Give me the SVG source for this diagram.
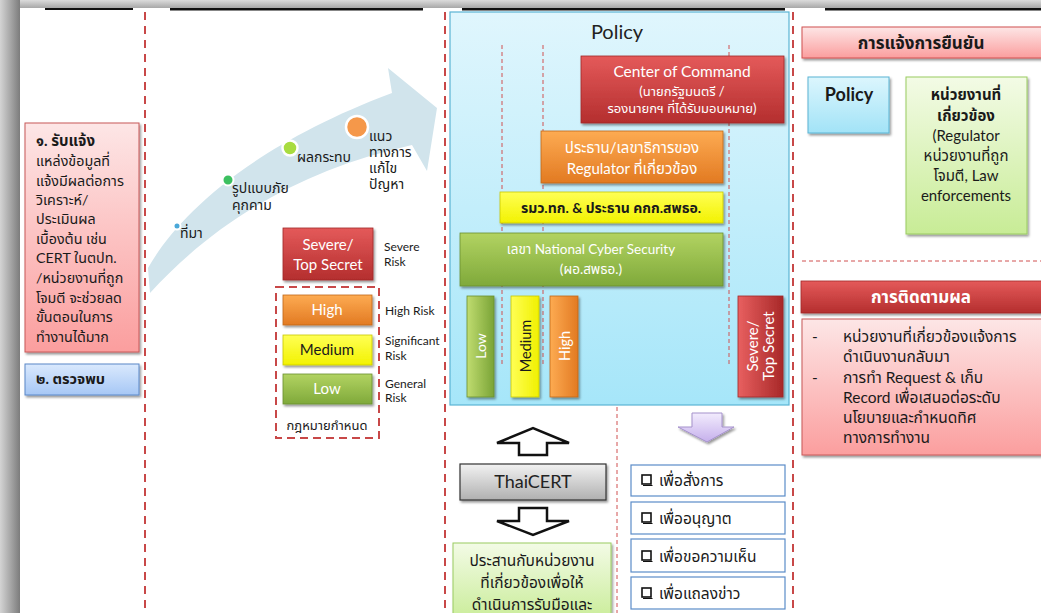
<svg xmlns="http://www.w3.org/2000/svg" width="1041" height="613" viewBox="0 0 1041 613">
<defs>
<style>
text{font-family:Lato,"Noto Sans Thai","Noto Sans","DejaVu Sans",sans-serif;}
.k{fill:#1a1a1a;}
.w{fill:#ffffff;}
.b{font-weight:bold;}
.c{text-anchor:middle;}
.dash{stroke:#c84848;stroke-width:2;stroke-dasharray:8 6;fill:none;}
.thin{stroke:#d05050;stroke-width:1;stroke-dasharray:4 3;fill:none;}
.sh{filter:url(#shadow);}
</style>
<filter id="shadow" x="-10%" y="-10%" width="130%" height="140%">
<feDropShadow dx="1.5" dy="2" stdDeviation="1.2" flood-color="#000" flood-opacity="0.4"/>
</filter>
<linearGradient id="gRed" x1="0" y1="0" x2="0" y2="1"><stop offset="0" stop-color="#e45a5a"/><stop offset="1" stop-color="#b42e2e"/></linearGradient>
<linearGradient id="gOrange" x1="0" y1="0" x2="0" y2="1"><stop offset="0" stop-color="#fdab52"/><stop offset="1" stop-color="#e27a22"/></linearGradient>
<linearGradient id="gYellow" x1="0" y1="0" x2="0" y2="1"><stop offset="0" stop-color="#ffff55"/><stop offset="1" stop-color="#f2f200"/></linearGradient>
<linearGradient id="gGreen" x1="0" y1="0" x2="0" y2="1"><stop offset="0" stop-color="#b2d362"/><stop offset="1" stop-color="#7fa93a"/></linearGradient>
<linearGradient id="gRedH" x1="0" y1="0" x2="1" y2="0"><stop offset="0" stop-color="#e86060"/><stop offset="1" stop-color="#a82828"/></linearGradient>
<linearGradient id="gOrangeH" x1="0" y1="0" x2="1" y2="0"><stop offset="0" stop-color="#fdab52"/><stop offset="1" stop-color="#e27a22"/></linearGradient>
<linearGradient id="gYellowH" x1="0" y1="0" x2="1" y2="0"><stop offset="0" stop-color="#ffff55"/><stop offset="1" stop-color="#f0f000"/></linearGradient>
<linearGradient id="gGreenH" x1="0" y1="0" x2="1" y2="0"><stop offset="0" stop-color="#c0dc70"/><stop offset="1" stop-color="#7aa436"/></linearGradient>
<linearGradient id="gPink" x1="0" y1="0" x2="0" y2="1"><stop offset="0" stop-color="#fde6e6"/><stop offset="1" stop-color="#fb9e9e"/></linearGradient>
<linearGradient id="gBlue" x1="0" y1="0" x2="0" y2="1"><stop offset="0" stop-color="#dae9fd"/><stop offset="1" stop-color="#a6c7f5"/></linearGradient>
<linearGradient id="gCyan" x1="0" y1="0" x2="0" y2="1"><stop offset="0" stop-color="#dcf6fd"/><stop offset="1" stop-color="#a2e3f7"/></linearGradient>
<linearGradient id="gPolicy" x1="0" y1="0" x2="0" y2="1"><stop offset="0" stop-color="#e0f6fd"/><stop offset="1" stop-color="#a6e6f9"/></linearGradient>
<linearGradient id="gLGreen" x1="0" y1="0" x2="0" y2="1"><stop offset="0" stop-color="#f3fbe6"/><stop offset="1" stop-color="#c8ec96"/></linearGradient>
<linearGradient id="gGrey" x1="0" y1="0" x2="0" y2="1"><stop offset="0" stop-color="#f2f2f2"/><stop offset="1" stop-color="#b0b0b0"/></linearGradient>
<linearGradient id="gPurple" x1="0" y1="0" x2="0" y2="1"><stop offset="0" stop-color="#f2ecfd"/><stop offset="1" stop-color="#c6b0ec"/></linearGradient>
<linearGradient id="gLeft" x1="0" y1="0" x2="1" y2="0"><stop offset="0" stop-color="#d4d4d4"/><stop offset="0.6" stop-color="#a0a0a0"/><stop offset="1" stop-color="#7c7c7c"/></linearGradient>
<linearGradient id="gTop" x1="0" y1="0" x2="0" y2="1"><stop offset="0" stop-color="#dcdcdc"/><stop offset="1" stop-color="#a8a8a8"/></linearGradient>
</defs>

<!-- frame -->
<rect x="0" y="0" width="1041" height="613" fill="#ffffff"/>
<rect x="0" y="0" width="1041" height="8" fill="url(#gTop)"/>
<rect x="0" y="0" width="20" height="613" fill="url(#gLeft)"/>
<g id="toplines" fill="#111">
<rect x="45" y="8" width="88" height="2"/>
<rect x="170" y="8" width="253" height="2.5"/>
<rect x="462" y="8" width="323" height="2.5"/>
<rect x="825" y="8" width="216" height="2.5"/>
</g>

<!-- column separators -->
<g id="separators">
<line class="dash" x1="145" y1="12" x2="145" y2="613"/>
<line class="dash" x1="445" y1="12" x2="445" y2="613"/>
<line class="dash" x1="793" y1="12" x2="793" y2="613"/>
<line class="thin" x1="617" y1="407" x2="617" y2="613"/>
<line class="thin" x1="802" y1="261" x2="1041" y2="261"/>
</g>

<!-- left column -->
<g id="report">
<rect class="sh" x="25" y="123" width="114" height="229" fill="url(#gPink)" stroke="#c85858" stroke-width="1"/>
<g class="k" font-size="14.3">
<text x="36" y="146" class="b" font-size="15">๑. รับแจ้ง</text>
<text x="36" y="166">แหล่งข้อมูลที่</text>
<text x="36" y="186">แจ้งมีผลต่อการ</text>
<text x="36" y="205">วิเคราะห์/</text>
<text x="36" y="224">ประเมินผล</text>
<text x="36" y="244">เบื้องต้น เช่น</text>
<text x="36" y="263">CERT ในตปท.</text>
<text x="36" y="283">/หน่วยงานที่ถูก</text>
<text x="36" y="303">โจมตี จะช่วยลด</text>
<text x="36" y="322">ขั้นตอนในการ</text>
<text x="36" y="342">ทำงานได้มาก</text>
</g>
</g>
<g id="detect">
<rect class="sh" x="25" y="364" width="114" height="31" fill="url(#gBlue)" stroke="#5b88c8" stroke-width="1"/>
<text x="36" y="384" class="k b" font-size="14.6">๒. ตรวจพบ</text>
</g>

<!-- curved arrow -->
<g id="process-arrow">
<path d="M148,268 C175,220 245,148 392,93 L388,68 L437,108 L427,171 L412,145 C300,170 215,222 150,293 Z" fill="#d1e4ec"/>
<circle cx="177" cy="226" r="3.5" fill="#4aa8d8" stroke="#fff" stroke-width="2"/>
<circle cx="228" cy="180" r="5.5" fill="#3cc060" stroke="#fff" stroke-width="2"/>
<circle cx="290" cy="148" r="7.5" fill="#a8dc40" stroke="#fff" stroke-width="2.5"/>
<circle cx="357" cy="127" r="11" fill="#f5984a" stroke="#fff" stroke-width="2.5"/>
<g class="k" font-size="14">
<text x="180" y="238">ที่มา</text>
<text x="232" y="193">รูปแบบภัย</text>
<text x="232" y="210">คุกคาม</text>
<text x="297" y="162">ผลกระทบ</text>
<text x="369" y="141">แนว</text>
<text x="369" y="157">ทางการ</text>
<text x="369" y="173">แก้ไข</text>
<text x="369" y="189">ปัญหา</text>
</g>
</g>

<!-- risk legend -->
<g id="legend">
<rect class="sh" x="283" y="228" width="90" height="52" fill="url(#gRed)" stroke="#a02828" stroke-width="0.8"/>
<text x="328" y="250" class="c w" font-size="15">Severe/</text>
<text x="328" y="270" class="c w" font-size="15">Top Secret</text>
<rect x="276" y="287" width="103" height="151" fill="none" stroke="#c84848" stroke-width="2" stroke-dasharray="8 5"/>
<rect class="sh" x="283" y="295" width="89" height="30" fill="url(#gOrange)" stroke="#c06818" stroke-width="0.8"/>
<text x="327" y="315" class="c w" font-size="15">High</text>
<rect class="sh" x="283" y="335" width="89" height="30" fill="url(#gYellow)" stroke="#c8c800" stroke-width="0.8"/>
<text x="327" y="355" class="c k" font-size="15">Medium</text>
<rect class="sh" x="283" y="374" width="89" height="30" fill="url(#gGreen)" stroke="#6a9030" stroke-width="0.8"/>
<text x="327" y="394" class="c w" font-size="15">Low</text>
<text x="327" y="430" class="c k" font-size="13">กฎหมายกำหนด</text>
<g font-size="12" class="k">
<text x="384" y="251">Severe</text>
<text x="384" y="266">Risk</text>
<text x="385" y="315">High Risk</text>
<text x="385" y="345">Significant</text>
<text x="385" y="360">Risk</text>
<text x="385" y="388">General</text>
<text x="385" y="402">Risk</text>
</g>
</g>

<!-- policy panel -->
<g id="policy">
<rect x="450" y="12" width="339" height="393" fill="url(#gPolicy)" stroke="#5ab4d4" stroke-width="1.2"/>
<text x="617" y="39" class="c" font-size="20" fill="#222">Policy</text>
<line class="thin" x1="502" y1="45" x2="502" y2="367"/>
<line class="thin" x1="543" y1="45" x2="543" y2="367"/>
<line class="thin" x1="729" y1="45" x2="729" y2="367"/>
</g>
<g id="command">
<rect class="sh" x="581" y="56" width="203" height="67" fill="url(#gRed)" stroke="#a02828" stroke-width="0.8"/>
<text x="682" y="77" class="c w" font-size="15.5">Center of Command</text>
<text x="682" y="96" class="c w" font-size="13">(นายกรัฐมนตรี /</text>
<text x="682" y="113" class="c w" font-size="13">รองนายกฯ ที่ได้รับมอบหมาย)</text>
</g>
<g id="regulator">
<rect class="sh" x="541" y="131" width="182" height="52" fill="url(#gOrange)" stroke="#c06818" stroke-width="0.8"/>
<text x="632" y="153" class="c w" font-size="15">ประธาน/เลขาธิการของ</text>
<text x="632" y="174" class="c w" font-size="15">Regulator ที่เกี่ยวข้อง</text>
</g>
<g id="minister">
<rect class="sh" x="500" y="192" width="223" height="31" fill="url(#gYellow)" stroke="#c8c800" stroke-width="0.8"/>
<text x="611" y="213" class="c b k" font-size="14">รมว.ทก. &amp; ประธาน คกก.สพธอ.</text>
</g>
<g id="secretary">
<rect class="sh" x="460" y="233" width="263" height="53" fill="url(#gGreen)" stroke="#6a9030" stroke-width="0.8"/>
<text x="591" y="254" class="c w" font-size="13.5">เลขา National  Cyber Security</text>
<text x="591" y="274" class="c w" font-size="13.5">(ผอ.สพธอ.)</text>
</g>
<g id="bar-low">
<rect class="sh" x="467" y="296" width="27" height="101" fill="url(#gGreenH)" stroke="#6a9030" stroke-width="0.8"/>
<text transform="translate(480.5,346) rotate(-90)" class="c w" font-size="14" dominant-baseline="central">Low</text>
</g>
<g id="bar-medium">
<rect class="sh" x="511" y="296" width="28" height="101" fill="url(#gYellowH)" stroke="#c8c800" stroke-width="0.8"/>
<text transform="translate(525,346) rotate(-90)" class="c k" font-size="14.5" dominant-baseline="central">Medium</text>
</g>
<g id="bar-high">
<rect class="sh" x="550" y="296" width="28" height="101" fill="url(#gOrangeH)" stroke="#c06818" stroke-width="0.8"/>
<text transform="translate(564,346) rotate(-90)" class="c w" font-size="14.5" dominant-baseline="central">High</text>
</g>
<g id="bar-severe">
<rect class="sh" x="738" y="296" width="45" height="101" fill="url(#gRedH)" stroke="#a02828" stroke-width="0.8"/>
<text transform="translate(760,346) rotate(-90)" class="c w" font-size="15"><tspan x="0" y="-2">Severe/</tspan><tspan x="0" y="14">Top Secret</tspan></text>
</g>

<!-- connectors -->
<g id="connectors">
<path d="M519,455 L519,443 L497,443 L533,428 L569,443 L547,443 L547,455 Z" fill="#fff" stroke="#111" stroke-width="2.5"/>
<path d="M519,508 L547,508 L547,521 L569,521 L533,535 L497,521 L519,521 Z" fill="#fff" stroke="#111" stroke-width="2.5"/>
<path class="sh" d="M692,413 L722,413 L722,427 L734,427 L707,442 L678,427 L692,427 Z" fill="url(#gPurple)" stroke="#a592cc" stroke-width="1"/>
</g>
<g id="thaicert">
<rect class="sh" x="460" y="464" width="146" height="36" fill="url(#gGrey)" stroke="#333" stroke-width="1.2"/>
<text x="533" y="488" class="c" font-size="18" fill="#222">ThaiCERT</text>
</g>
<g id="coordinate">
<rect class="sh" x="453" y="543" width="158" height="80" fill="url(#gLGreen)" stroke="#9acb60" stroke-width="1"/>
<g class="c k" font-size="15.5">
<text x="532" y="566">ประสานกับหน่วยงาน</text>
<text x="532" y="588">ที่เกี่ยวข้องเพื่อให้</text>
<text x="532" y="610">ดำเนินการรับมือและ</text>
</g>
</g>

<!-- purposes -->
<g id="purposes" class="k" font-size="15.5">
<g id="p1"><rect x="631" y="465" width="154" height="31" fill="#fff" stroke="#5b8cc8" stroke-width="1.2"/><rect x="642" y="475" width="9" height="9" fill="#fff" stroke="#111" stroke-width="1.6"/><line x1="643" y1="485.5" x2="652.5" y2="485.5" stroke="#111" stroke-width="1"/><text x="659" y="486">เพื่อสั่งการ</text></g>
<g id="p2"><rect x="631" y="502" width="154" height="32" fill="#fff" stroke="#5b8cc8" stroke-width="1.2"/><rect x="642" y="513" width="9" height="9" fill="#fff" stroke="#111" stroke-width="1.6"/><line x1="643" y1="523.5" x2="652.5" y2="523.5" stroke="#111" stroke-width="1"/><text x="659" y="524">เพื่ออนุญาต</text></g>
<g id="p3"><rect x="631" y="539" width="154" height="33" fill="#fff" stroke="#5b8cc8" stroke-width="1.2"/><rect x="642" y="551" width="9" height="9" fill="#fff" stroke="#111" stroke-width="1.6"/><line x1="643" y1="561.5" x2="652.5" y2="561.5" stroke="#111" stroke-width="1"/><text x="659" y="562">เพื่อขอความเห็น</text></g>
<g id="p4"><rect x="631" y="577" width="154" height="32" fill="#fff" stroke="#5b8cc8" stroke-width="1.2"/><rect x="642" y="588" width="9" height="9" fill="#fff" stroke="#111" stroke-width="1.6"/><line x1="643" y1="598.5" x2="652.5" y2="598.5" stroke="#111" stroke-width="1"/><text x="659" y="599">เพื่อแถลงข่าว</text></g>
</g>

<!-- right column -->
<g id="confirm">
<rect class="sh" x="802" y="27" width="245" height="31" fill="url(#gPink)" stroke="#d05050" stroke-width="1"/>
<text x="921" y="49" class="c k b" font-size="17">การแจ้งการยืนยัน</text>
</g>
<g id="policy-small">
<rect class="sh" x="808" y="77" width="81" height="56" fill="url(#gCyan)" stroke="#5ab4d4" stroke-width="1"/>
<text x="849" y="101" class="c b k" font-size="18">Policy</text>
</g>
<g id="agencies">
<rect class="sh" x="906" y="77" width="121" height="157" fill="url(#gLGreen)" stroke="#9acb60" stroke-width="1"/>
<g class="c k" font-size="15">
<text x="966" y="100" class="b">หน่วยงานที่</text>
<text x="966" y="121" class="b">เกี่ยวข้อง</text>
<text x="966" y="141">(Regulator</text>
<text x="966" y="161">หน่วยงานที่ถูก</text>
<text x="966" y="181">โจมตี, Law</text>
<text x="966" y="201">enforcements</text>
</g>
</g>
<g id="follow">
<rect class="sh" x="801" y="281" width="246" height="32" fill="url(#gRed)" stroke="#a02828" stroke-width="0.8"/>
<text x="921" y="303" class="c w b" font-size="17">การติดตามผล</text>
</g>
<g id="follow-text">
<rect class="sh" x="802" y="319" width="245" height="136" fill="url(#gPink)" stroke="#c85858" stroke-width="1"/>
<g class="k" font-size="15.5">
<text x="812" y="342">-</text>
<text x="843" y="342">หน่วยงานที่เกี่ยวข้องแจ้งการ</text>
<text x="843" y="362">ดำเนินงานกลับมา</text>
<text x="812" y="383">-</text>
<text x="843" y="383">การทำ Request &amp; เก็บ</text>
<text x="843" y="403">Record เพื่อเสนอต่อระดับ</text>
<text x="843" y="423">นโยบายและกำหนดทิศ</text>
<text x="843" y="443">ทางการทำงาน</text>
</g>
</g>
</svg>
